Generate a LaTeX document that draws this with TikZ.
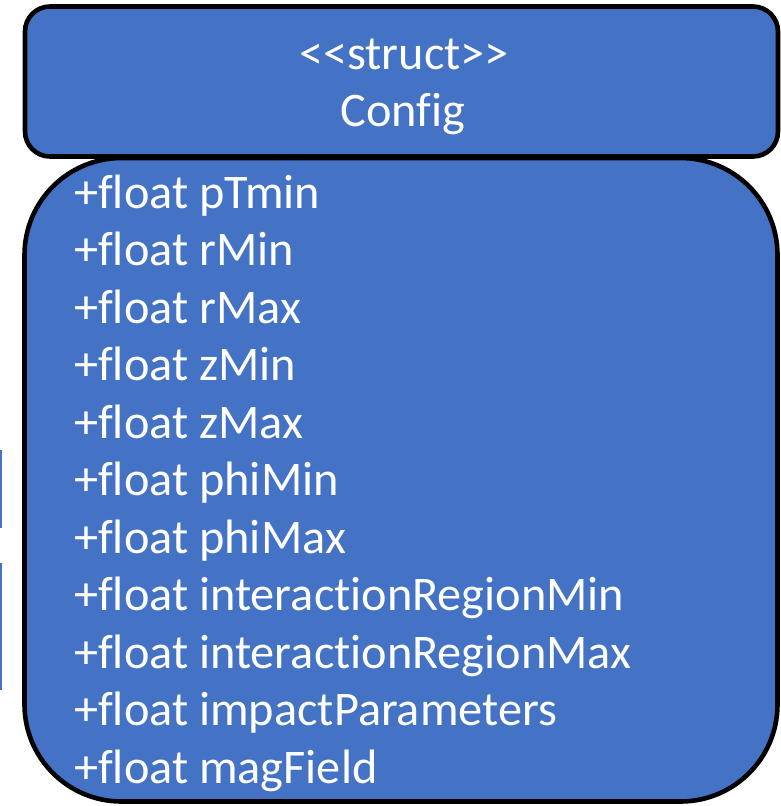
\documentclass[tikz,border=0pt]{standalone}
\usepackage{fontspec}
\setmainfont{Carlito}[Ligatures={NoCommon,NoRequired}]
\definecolor{officeblue}{HTML}{4472C4}
\begin{document}
\begin{tikzpicture}[x=1pt,y=-1pt,
  panel/.style={fill=officeblue,draw=black,line width=4.6pt},
  hdr/.style={text=white,font=\fontsize{48.3}{58}\selectfont,inner sep=0pt,anchor=base},
  field/.style={text=white,font=\fontsize{48.3}{58}\selectfont,inner sep=0pt,anchor=base west},
  sliver/.style={fill=officeblue,draw=none}]
\useasboundingbox (0,0) rectangle (781,806);
% edges of a neighbouring shape, cut off at the left border
\fill[sliver] (0,450) rectangle (1.8,528);
\fill[sliver] (0,563) rectangle (1.8,690);
% attribute compartment
\draw[panel,rounded corners=97pt] (24.5,158) rectangle (777.5,801.5);
% name compartment
\draw[panel,rounded corners=25pt] (25,6.5) rectangle (778,156.5);
\node[hdr] (stereo) at (404,69) {<\kern0pt<struct>\kern0pt>};
\node[hdr] (name) at (403,126) {Config};
\foreach \t [count=\i from 0] in {pTmin,rMin,rMax,zMin,zMax,phiMin,phiMax,
  interactionRegionMin,interactionRegionMax,impactParameters,magField}
  \node[field] (f\i) at (74,208+57.5*\i) {+float \t};
\end{tikzpicture}
\end{document}
